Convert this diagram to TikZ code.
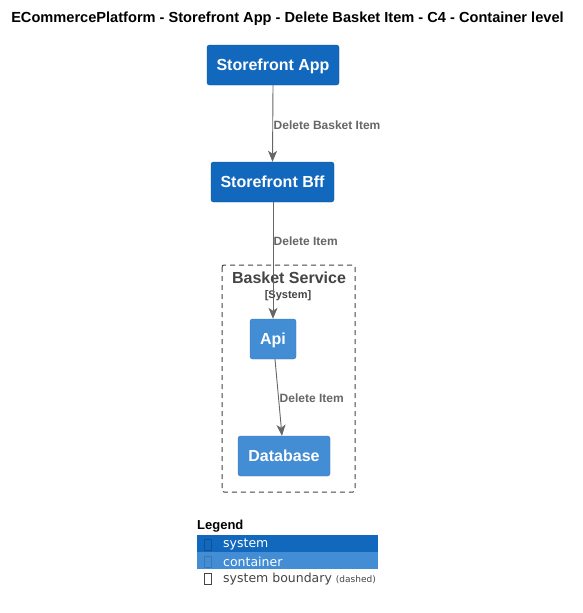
\documentclass[tikz,border=0pt]{standalone}
\usepackage{fontspec}
\setmainfont{Liberation Sans}
\newfontfamily\legfont{DejaVu Sans}
\usetikzlibrary{arrows.meta}
\definecolor{sysblue}{HTML}{1168BD}
\definecolor{conblue}{HTML}{438DD5}
\definecolor{relgrey}{HTML}{666666}
\definecolor{bndgrey}{HTML}{444444}
\begin{document}
\begin{tikzpicture}[x=1pt,y=-1pt,
  sysbox/.style={draw=sysblue!85!black,fill=sysblue,rounded corners=2.5pt,text=white,font=\fontsize{16}{18}\selectfont\bfseries,inner sep=0pt,text height=10pt,text depth=0pt},
  conbox/.style={draw=conblue!85!black,fill=conblue,rounded corners=2.5pt,text=white,font=\fontsize{16}{18}\selectfont\bfseries,inner sep=0pt,text height=10pt,text depth=0pt},
  rel/.style={draw=relgrey,line width=0.9pt,-{Stealth[length=11pt,width=9pt,inset=3pt]}},
  rellabel/.style={text=relgrey,font=\fontsize{12}{14}\selectfont\bfseries,anchor=west,inner sep=0pt},
  legtext/.style={font=\legfont\fontsize{12.5}{14}\selectfont,anchor=west,inner sep=0pt}
]
\useasboundingbox (0,0) rectangle (582,613);
\node[font=\fontsize{14.6}{16}\selectfont\bfseries,inner sep=0pt] (title) at (287.5,19) {ECommercePlatform - Storefront App - Delete Basket Item - C4 - Container level};

\node[sysbox,minimum width=132pt,minimum height=40pt] (app) at (273,65) {Storefront App};
\node[sysbox,minimum width=123pt,minimum height=40pt] (bff) at (272.5,182) {Storefront Bff};

\draw[bndgrey,dash pattern=on 5pt off 4pt,line width=1pt,rounded corners=2pt] (222,265) rectangle (355,492);
\node[text=bndgrey,font=\fontsize{16}{18}\selectfont\bfseries,inner sep=0pt] (bname) at (289,278) {Basket Service};
\node[text=bndgrey,font=\fontsize{11}{13}\selectfont\bfseries,inner sep=0pt] (btype) at (288,296) {[System]};

\node[conbox,minimum width=46pt,minimum height=40pt] (api) at (273,339) {Api};
\node[conbox,minimum width=92pt,minimum height=40pt] (db) at (284,456) {Database};

\draw[rel] (app.south) -- (bff.north);
\node[rellabel] (l1) at (273.5,125) {Delete Basket Item};
\draw[rel] (bff.south -| app.south) -- (api.north);
\node[rellabel] (l2) at (273.5,241) {Delete Item};
\draw[rel] ([xshift=2pt]api.south) -- ([xshift=-2pt]db.north);
\node[rellabel] (l3) at (279.5,398) {Delete Item};

% legend
\node[font=\fontsize{13}{15}\selectfont\bfseries,anchor=west,inner sep=0pt] (leg) at (197,526) {Legend};
\fill[sysblue] (197,535) rectangle (378,552);
\fill[conblue] (197,552) rectangle (378,569);
\draw[sysblue!80!black,line width=0.5pt] (204,539) rectangle (211,550);
\draw[conblue!85!black,line width=0.5pt] (204,556) rectangle (211,567);
\draw[bndgrey,line width=0.6pt] (204,573) rectangle (211,584);
\node[legtext,text=white] (l_sys) at (223,544.5) {system};
\node[legtext,text=white] (l_con) at (223,561.5) {container};
\node[legtext,text=bndgrey] (l_bnd) at (223,579.5) {system boundary {\fontsize{9}{11}\selectfont (dashed)}};
\end{tikzpicture}
\end{document}
